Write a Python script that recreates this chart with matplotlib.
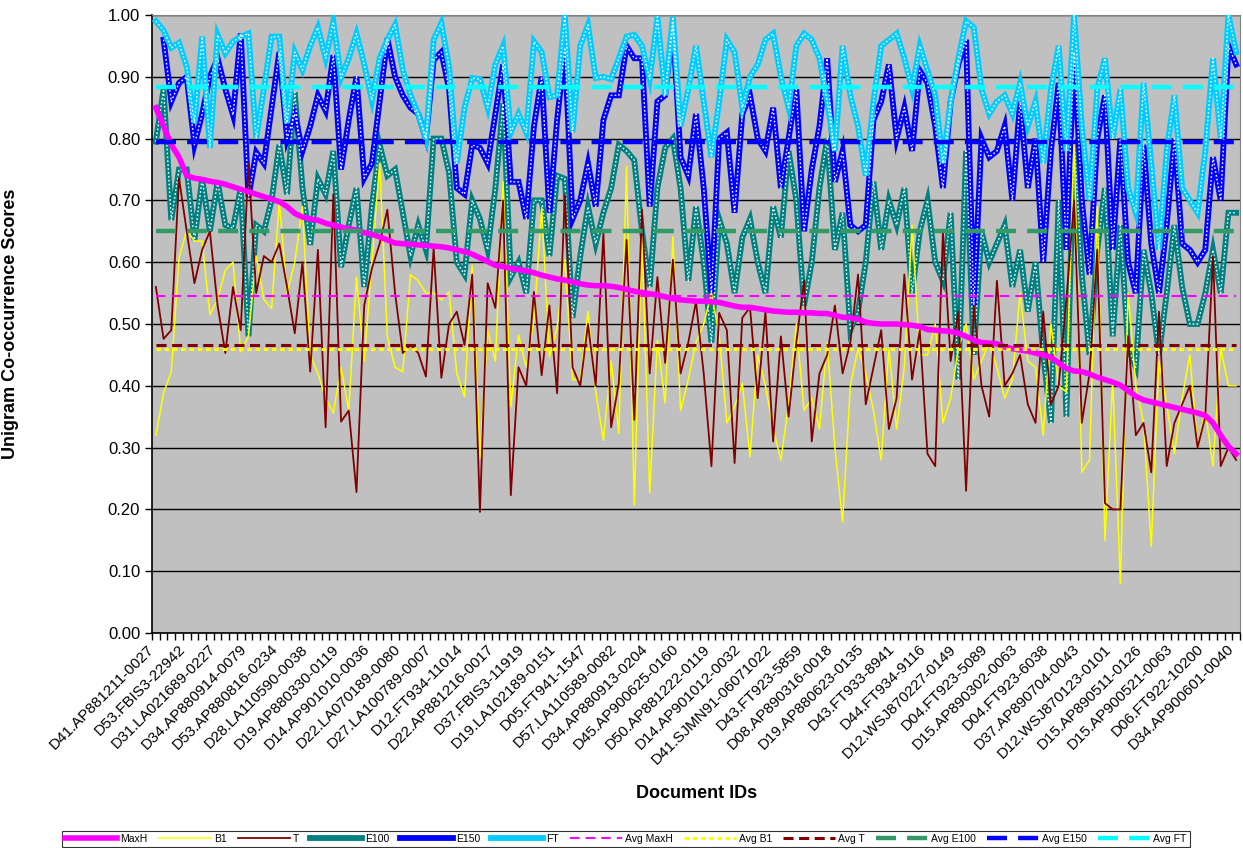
import numpy as np
import matplotlib
matplotlib.use("Agg")
from matplotlib import pyplot as plt
from matplotlib.lines import Line2D
from matplotlib.transforms import ScaledTranslation, blended_transform_factory

plt.rcParams['font.family'] = ['Liberation Sans', 'DejaVu Sans']

# tick labels shown every 4th document
doc_labels = ['D41.AP881211-0027', 'D53.FBIS3-22942', 'D31.LA021689-0227', 'D34.AP880914-0079',
              'D53.AP880816-0234', 'D28.LA110590-0038', 'D19.AP880330-0119', 'D14.AP901010-0036',
              'D22.LA070189-0080', 'D27.LA100789-0007', 'D12.FT934-11014', 'D22.AP881216-0017',
              'D37.FBIS3-11919', 'D19.LA102189-0151', 'D05.FT941-1547', 'D57.LA110589-0082',
              'D34.AP880913-0204', 'D45.AP900625-0160', 'D50.AP881222-0119', 'D14.AP901012-0032',
              'D41.SJMN91-06071022', 'D43.FT923-5859', 'D08.AP890316-0018', 'D19.AP880623-0135',
              'D43.FT933-8941', 'D44.FT934-9116', 'D12.WSJ870227-0149', 'D04.FT923-5089',
              'D15.AP890302-0063', 'D04.FT923-6038', 'D37.AP890704-0043', 'D12.WSJ870123-0101',
              'D15.AP890511-0126', 'D15.AP900521-0063', 'D06.FT922-10200', 'D34.AP900601-0040']

maxh = [0.85, 0.82, 0.79, 0.77, 0.74, 0.736, 0.734, 0.731, 0.729, 0.726,
        0.722, 0.718, 0.714, 0.710, 0.706, 0.702, 0.698, 0.690, 0.679, 0.673,
        0.670, 0.668, 0.663, 0.660, 0.657, 0.654, 0.652, 0.648, 0.645, 0.641,
        0.636, 0.631, 0.630, 0.629, 0.628, 0.627, 0.626, 0.625, 0.623, 0.620,
        0.617, 0.613, 0.607, 0.601, 0.595, 0.593, 0.590, 0.588, 0.586, 0.583,
        0.579, 0.576, 0.573, 0.571, 0.568, 0.565, 0.563, 0.562, 0.562, 0.561,
        0.559, 0.556, 0.553, 0.551, 0.549, 0.547, 0.544, 0.541, 0.539, 0.538,
        0.537, 0.537, 0.536, 0.535, 0.532, 0.529, 0.527, 0.527, 0.525, 0.523,
        0.521, 0.520, 0.519, 0.519, 0.518, 0.518, 0.517, 0.517, 0.514, 0.511,
        0.510, 0.508, 0.503, 0.501, 0.500, 0.500, 0.500, 0.499, 0.498, 0.496,
        0.491, 0.490, 0.489, 0.488, 0.485, 0.480, 0.474, 0.470, 0.469, 0.468,
        0.463, 0.460, 0.458, 0.456, 0.453, 0.450, 0.446, 0.437, 0.428, 0.424,
        0.423, 0.419, 0.414, 0.410, 0.406, 0.401, 0.392, 0.383, 0.377, 0.374,
        0.371, 0.368, 0.365, 0.362, 0.359, 0.356, 0.352, 0.340, 0.320, 0.302,
        0.290]

b1 = [0.32, 0.388, 0.423, 0.607, 0.652, 0.634, 0.634, 0.515, 0.54, 0.587,
      0.60, 0.455, 0.48, 0.61, 0.54, 0.525, 0.698, 0.55, 0.60, 0.69,
      0.45, 0.42, 0.38, 0.356, 0.43, 0.36, 0.576, 0.44, 0.60, 0.76,
      0.48, 0.43, 0.423, 0.58, 0.57, 0.55, 0.55, 0.539, 0.552, 0.42,
      0.382, 0.595, 0.283, 0.49, 0.44, 0.73, 0.366, 0.482, 0.43, 0.506,
      0.688, 0.447, 0.494, 0.604, 0.41, 0.41, 0.52, 0.39, 0.312, 0.44,
      0.323, 0.755, 0.207, 0.64, 0.227, 0.474, 0.372, 0.641, 0.36, 0.41,
      0.47, 0.50, 0.55, 0.482, 0.34, 0.366, 0.404, 0.285,
      0.45, 0.40, 0.33, 0.28, 0.37, 0.50, 0.36, 0.38, 0.33, 0.47,
      0.30, 0.18, 0.40, 0.46, 0.42, 0.36, 0.28, 0.46, 0.33, 0.43,
      0.66, 0.45, 0.45, 0.50, 0.34, 0.38, 0.46, 0.50, 0.41, 0.44,
      0.47, 0.43, 0.38, 0.41, 0.55, 0.44, 0.43, 0.32, 0.50, 0.40,
      0.39, 0.80, 0.26, 0.28, 0.69, 0.15, 0.41, 0.08, 0.55, 0.40,
      0.34, 0.14, 0.44, 0.37, 0.29, 0.38, 0.45, 0.30, 0.36, 0.27,
      0.46, 0.40, 0.40]

t = [0.56, 0.476, 0.49, 0.736, 0.65, 0.566, 0.62, 0.65, 0.53, 0.453,
     0.56, 0.49, 0.76, 0.55, 0.61, 0.60, 0.63, 0.56, 0.485, 0.60,
     0.423, 0.62, 0.333, 0.71, 0.342, 0.36, 0.228, 0.53, 0.59, 0.63,
     0.685, 0.55, 0.453, 0.466, 0.453, 0.415, 0.623, 0.413, 0.50, 0.52,
     0.466, 0.58, 0.196, 0.566, 0.526, 0.70, 0.223, 0.43, 0.40, 0.552,
     0.417, 0.53, 0.388, 0.709, 0.43, 0.40, 0.50, 0.40, 0.647, 0.333,
     0.405, 0.636, 0.345, 0.685, 0.42, 0.576, 0.437, 0.604, 0.42, 0.47,
     0.536, 0.42, 0.27, 0.518, 0.49, 0.275, 0.51, 0.527,
     0.38, 0.52, 0.31, 0.48, 0.35, 0.47, 0.57, 0.31, 0.42, 0.45,
     0.53, 0.42, 0.47, 0.58, 0.37, 0.43, 0.49, 0.33, 0.38, 0.58,
     0.41, 0.49, 0.29, 0.27, 0.65, 0.44, 0.52, 0.23, 0.53, 0.40,
     0.35, 0.57, 0.40, 0.42, 0.45, 0.37, 0.34, 0.52, 0.37, 0.40,
     0.54, 0.70, 0.34, 0.42, 0.62, 0.21, 0.20, 0.20, 0.48, 0.32,
     0.34, 0.26, 0.52, 0.27, 0.34, 0.37, 0.40, 0.30, 0.35, 0.61,
     0.27, 0.30, 0.28]

e100 = [0.795, 0.88, 0.668, 0.75, 0.75, 0.636, 0.735, 0.65, 0.73, 0.66,
        0.655, 0.72, 0.48, 0.66, 0.65, 0.70, 0.79, 0.71, 0.875, 0.72,
        0.628, 0.735, 0.71, 0.78, 0.592, 0.66, 0.72, 0.56, 0.69, 0.79,
        0.74, 0.75, 0.68, 0.61, 0.66, 0.62, 0.80, 0.80, 0.745, 0.60,
        0.58, 0.70, 0.67, 0.62, 0.72, 0.857, 0.576, 0.60, 0.55, 0.70,
        0.70, 0.61, 0.74, 0.735, 0.51, 0.61, 0.69, 0.63, 0.68, 0.72,
        0.79, 0.78, 0.765, 0.65, 0.56, 0.72, 0.785, 0.80, 0.72, 0.57,
        0.69, 0.60, 0.47, 0.67, 0.63, 0.55, 0.64, 0.67,
        0.60, 0.55, 0.69, 0.64, 0.78, 0.70, 0.53, 0.60, 0.72, 0.80,
        0.62, 0.68, 0.49, 0.52, 0.60, 0.73, 0.62, 0.70, 0.66, 0.72,
        0.55, 0.65, 0.70, 0.60, 0.57, 0.68, 0.41, 0.78, 0.45, 0.65,
        0.60, 0.63, 0.66, 0.56, 0.62, 0.52, 0.60, 0.45, 0.34, 0.70,
        0.35, 0.80, 0.58, 0.45, 0.62, 0.72, 0.48, 0.66, 0.46, 0.43,
        0.62, 0.55, 0.45, 0.55, 0.66, 0.56, 0.50, 0.50, 0.55, 0.62,
        0.55, 0.68, 0.68]

e150 = [np.nan, 0.96, 0.86, 0.89, 0.90, 0.79, 0.84, 0.90, 0.93, 0.88,
        0.838, 0.97, 0.705, 0.778, 0.76, 0.85, 0.94, 0.80, 0.84, 0.78,
        0.82, 0.87, 0.845, 0.935, 0.75, 0.83, 0.90, 0.736, 0.76, 0.86,
        0.962, 0.90, 0.87, 0.85, 0.84, 0.80, 0.927, 0.94, 0.88, 0.72,
        0.71, 0.79, 0.785, 0.76, 0.84, 0.92, 0.73, 0.73, 0.67, 0.82,
        0.90, 0.68, 0.83, 0.945, 0.67, 0.70, 0.76, 0.69, 0.83, 0.87,
        0.87, 0.95, 0.93, 0.93, 0.69, 0.86, 0.87, 0.985, 0.77, 0.74,
        0.84, 0.72, 0.55, 0.80, 0.81, 0.68, 0.84, 0.87,
        0.80, 0.78, 0.85, 0.72, 0.80, 0.88, 0.65, 0.75, 0.82, 0.93,
        0.73, 0.78, 0.66, 0.65, 0.66, 0.83, 0.86, 0.92, 0.80, 0.85,
        0.78, 0.91, 0.89, 0.82, 0.72, 0.86, 0.92, 0.96, 0.53, 0.80,
        0.77, 0.78, 0.82, 0.70, 0.86, 0.72, 0.80, 0.60, 0.78, 0.89,
        0.62, 0.94, 0.70, 0.58, 0.80, 0.87, 0.62, 0.80, 0.60, 0.55,
        0.79, 0.63, 0.55, 0.66, 0.80, 0.63, 0.62, 0.60, 0.62, 0.77,
        0.70, 0.95, 0.92]

ft = [0.99, 0.975, 0.947, 0.955, 0.916, 0.825, 0.965, 0.785, 0.968, 0.938,
      0.957, 0.965, 0.97, 0.80, 0.88, 0.965, 0.965, 0.825, 0.94, 0.911,
      0.95, 0.98, 0.93, 0.989, 0.898, 0.93, 0.97, 0.92, 0.862, 0.93,
      0.96, 0.984, 0.911, 0.87, 0.84, 0.80, 0.96, 0.987, 0.916, 0.76,
      0.85, 0.898, 0.896, 0.85, 0.92, 0.95, 0.81, 0.84, 0.81, 0.957,
      0.94, 0.867, 0.87, 1.0, 0.81, 0.95, 0.984, 0.898, 0.90, 0.896,
      0.93, 0.965, 0.968, 0.95, 0.896, 0.997, 0.87, 0.997, 0.82, 0.88,
      0.95, 0.86, 0.77, 0.86, 0.96, 0.94, 0.85, 0.90,
      0.92, 0.96, 0.97, 0.90, 0.85, 0.95, 0.97, 0.96, 0.93, 0.86,
      0.78, 0.95, 0.87, 0.82, 0.74, 0.86, 0.95, 0.96, 0.97, 0.93,
      0.88, 0.95, 0.91, 0.87, 0.76, 0.86, 0.93, 0.99, 0.98, 0.88,
      0.84, 0.86, 0.87, 0.84, 0.89, 0.82, 0.86, 0.76, 0.88, 0.95,
      0.78, 1.00, 0.82, 0.70, 0.88, 0.93, 0.80, 0.88, 0.72, 0.68,
      0.89, 0.76, 0.62, 0.78, 0.87, 0.72, 0.70, 0.68, 0.78, 0.93,
      0.80, 1.00, 0.94]

# averages as shown by the horizontal reference lines
avg_maxh = 0.545
avg_b1 = 0.460
avg_t = 0.466
avg_e100 = 0.650
avg_e150 = 0.795
avg_ft = 0.884

n = len(maxh)
x = np.arange(n)

fig = plt.figure(figsize=(12.43, 8.48), dpi=100)
ax = fig.add_axes([152 / 1243, 1 - 633 / 848, 1088 / 1243, 618 / 848])
ax.set_facecolor('#C0C0C0')


def pattern_line(y, color, label):
    ax.plot(x, y, color=color, lw=4.2, solid_joinstyle='miter', zorder=3)
    ax.plot(x, y, color='white', lw=1.0, ls=(0, (1.2, 1.6)), zorder=3.1)
    return Line2D([], [], color=color, lw=4.2, label=label)


handles = []
handles.append(ax.plot(x, maxh, color='#FF00FF', lw=4, zorder=5, label='MaxH')[0])
handles.append(ax.plot(x, b1, color='#FFFF00', lw=1.1, zorder=4, label='B1')[0])
handles.append(ax.plot(x, t, color='#800000', lw=1.3, zorder=4, label='T')[0])
handles.append(pattern_line(e100, '#008080', 'E100'))
handles.append(pattern_line(e150, '#0000FF', 'E150'))
handles.append(pattern_line(ft, '#00CCFF', 'FT'))

avgs = [(avg_maxh, '#FF00FF', 1.5, (0, (4.5, 3)), 'Avg MaxH'),
        (avg_b1, '#FFFF00', 2.2, (0, (1.5, 1.2)), 'Avg B1'),
        (avg_t, '#800000', 2.2, (0, (3.3, 1.8)), 'Avg T'),
        (avg_e100, '#339966', 3.2, (0, (4.5, 2.5)), 'Avg E100'),
        (avg_e150, '#0000FF', 3.2, (0, (4.5, 2.5)), 'Avg E150'),
        (avg_ft, '#00FFFF', 3.2, (0, (4.5, 2.5)), 'Avg FT')]
for val, col, lw, ls, lab in avgs:
    handles.append(ax.plot(x, [val] * n, color=col, lw=lw, ls=ls, zorder=6, label=lab)[0])

ax.set_ylim(0, 1)
ax.set_yticks(np.arange(0, 1.01, 0.1))
ax.set_yticklabels(['%.2f' % v for v in np.arange(0, 1.01, 0.1)], fontsize=12)
ax.yaxis.grid(True, color='black', lw=1)
ax.set_axisbelow(True)

# category labels: every 4th document, anchored a little left of the category centre
ax.set_xticks([])
ax.set_xticks(np.arange(-0.5, n, 1), minor=True)
ax.tick_params(axis='x', which='minor', length=5, width=1, direction='out')
ax.tick_params(axis='y', length=5, width=1, direction='out')
ax.set_xlim(-0.5, n - 0.5)
lab_tr = blended_transform_factory(ax.transData, ax.transAxes) + \
    ScaledTranslation(-0.09, -0.09, fig.dpi_scale_trans)
for xi, lab in zip(x[::4], doc_labels):
    ax.text(xi, 0, lab, transform=lab_tr, rotation=45, ha='right', va='top',
            rotation_mode='anchor', fontsize=11, clip_on=False)

for s in ['top', 'right']:
    ax.spines[s].set_color('#808080')
for s in ['left', 'bottom']:
    ax.spines[s].set_color('black')
    ax.spines[s].set_linewidth(1.2)

ax.set_ylabel('Unigram Co-occurrence Scores', fontsize=13, fontweight='bold')
ax.yaxis.set_label_coords(-0.122, 0.5)
fig.text(697 / 1243, 1 - 794 / 848, 'Document IDs', fontsize=13, fontweight='bold',
         ha='center', va='center')

leg = fig.legend(handles=handles, loc='center', bbox_to_anchor=(626 / 1243, 1 - 839 / 848),
                 ncol=12, fontsize=7.5, frameon=True, fancybox=False, edgecolor='black',
                 handlelength=5.0, handletextpad=0.3, columnspacing=1.05,
                 borderpad=0.3)
leg.get_frame().set_linewidth(0.8)

fig.savefig('out.png', dpi=100)
